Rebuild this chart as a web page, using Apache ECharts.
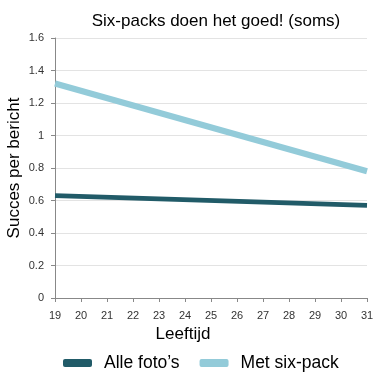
<!DOCTYPE html>
<html><head><meta charset="utf-8">
<script src="https://cdn.jsdelivr.net/npm/echarts@6/dist/echarts.min.js"></script>
<style>html,body{margin:0;padding:0;background:#fff}#c{width:387px;height:380px}</style>
</head><body><div id="c"></div>
<script>
var ages = [19, 31];
var alleFotos = [0.63, 0.57];
var metSixPack = [1.32, 0.78];
var seriesNames = ['Alle foto\u2019s', 'Met six-pack'];
var yTicks = [0, 0.2, 0.4, 0.6, 0.8, 1, 1.2, 1.4, 1.6];

var chart = echarts.init(document.getElementById('c'));
var font = 'Liberation Sans, Arial, sans-serif';
chart.setOption({
  animation: false,
  title: {text: 'Six-packs doen het goed! (soms)', left: 211, textAlign: 'center', top: 8,
    textStyle: {fontFamily: font, fontSize: 17, fontWeight: 'normal', color: '#000'}},
  legend: {bottom: 3, left: 58, itemWidth: 29, itemHeight: 8, itemGap: 20, icon: 'roundRect',
    textStyle: {fontFamily: font, fontSize: 17.5, color: '#000', padding: [0, 0, 0, 7]},
    data: seriesNames},
  grid: {left: 55, right: 20, top: 38, bottom: 82, containLabel: false, outerBoundsMode: 'none'},
  xAxis: {type: 'value', min: 19, max: 31, interval: 1,
    name: 'Leeftijd', nameLocation: 'middle', nameGap: 28, nameMoveOverlap: false,
    nameTextStyle: {fontFamily: font, fontSize: 17, color: '#000', padding: [0, 56, 0, 0]},
    axisLine: {show: true, lineStyle: {color: '#888'}},
    axisTick: {show: true, length: 4, lineStyle: {color: '#888'}},
    axisLabel: {fontFamily: font, fontSize: 11, color: '#333', margin: 12},
    splitLine: {show: false}},
  yAxis: {type: 'value', min: 0, max: 1.6, interval: 0.2,
    name: 'Succes per bericht', nameLocation: 'middle', nameGap: 32, nameMoveOverlap: false,
    nameTextStyle: {fontFamily: font, fontSize: 17, color: '#000'},
    axisLine: {show: true, lineStyle: {color: '#888'}},
    axisTick: {show: true, length: 4, lineStyle: {color: '#888'}},
    axisLabel: {fontFamily: font, fontSize: 11, color: '#333', margin: 11,
      formatter: function (v) { return String(+v.toFixed(1)); }},
    splitLine: {show: true, lineStyle: {color: '#e3e3e3'}}},
  series: [
    {name: seriesNames[0], type: 'line', symbol: 'none', color: '#215b68',
      lineStyle: {width: 5, color: '#215b68'},
      data: ages.map(function (a, i) { return [a, alleFotos[i]]; })},
    {name: seriesNames[1], type: 'line', symbol: 'none', color: '#93cbd9',
      lineStyle: {width: 6, color: '#93cbd9'},
      data: ages.map(function (a, i) { return [a, metSixPack[i]]; })}
  ]
});
</script></body></html>
